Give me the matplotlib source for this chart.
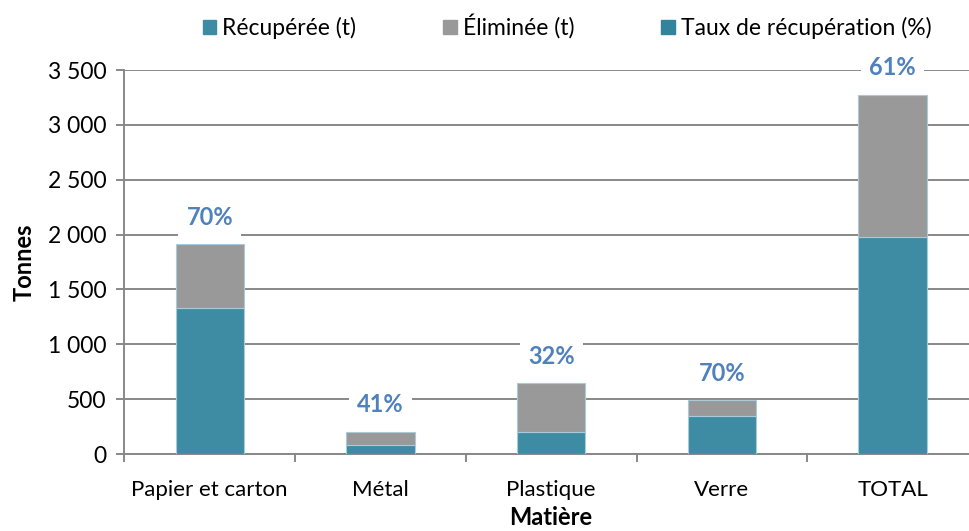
import matplotlib
matplotlib.use("Agg")
import matplotlib.pyplot as plt
from matplotlib.ticker import FuncFormatter, FixedLocator
from matplotlib.patches import Patch
import numpy as np

categories = ["Papier et carton", "Métal", "Plastique", "Verre", "TOTAL"]
recuperee = [1334, 84, 205, 342, 1981]
eliminee = [578, 121, 439, 148, 1292]
taux = [70, 41, 32, 70, 61]

plt.rcParams['font.family'] = ['Lato', 'DejaVu Sans']

fig = plt.figure(figsize=(9.69, 5.31), dpi=100)
ax = fig.add_axes([0.1283, 0.145, 0.881, 0.723])

teal = '#3d8ca4'
gray = '#999999'
edge = '#a9cad8'

x = np.arange(len(categories))
ax.bar(x, recuperee, width=0.4, color=teal, edgecolor=edge, linewidth=0.8, zorder=3)
tops = [r + e for r, e in zip(recuperee, eliminee)]
ax.bar(x, eliminee, width=0.4, bottom=recuperee, color=gray, edgecolor=edge, linewidth=0.8, zorder=3)

for xi, t, p in zip(x, tops, taux):
    ax.annotate(f"{p}%", (xi, t), xytext=(0, 19.5), textcoords='offset points',
                ha='center', va='center', fontsize=17, fontweight='bold', color='#4f81bd',
                bbox=dict(boxstyle='square,pad=0.35', fc='white', ec='none'), zorder=5)

ax.set_xlim(-0.5, len(categories) - 0.5)
ax.set_ylim(0, 3500)
ax.set_yticks(np.arange(0, 3501, 500))
ax.yaxis.set_major_formatter(FuncFormatter(lambda v, _: f"{int(v):,}".replace(",", " ")))
ax.yaxis.grid(True, color='#888888', linewidth=1.4, zorder=0)
ax.set_axisbelow(True)

ax.set_xticks(x)
ax.set_xticklabels(categories)
ax.xaxis.set_minor_locator(FixedLocator(np.arange(-0.5, len(categories), 1.0)))
ax.tick_params(axis='x', which='major', length=0, pad=19, labelsize=16)
ax.tick_params(axis='x', which='minor', length=6, width=1.4, color='#888888', direction='out')
ax.tick_params(axis='y', which='major', length=6, width=1.4, color='#888888', labelsize=16.5, pad=7)

for s in ['top', 'right']:
    ax.spines[s].set_visible(False)
for s in ['left', 'bottom']:
    ax.spines[s].set_color('#888888')
    ax.spines[s].set_linewidth(1.4)

ax.set_ylabel("Tonnes", fontsize=17, fontweight='bold', labelpad=9)
ax.set_xlabel("Matière", fontsize=17, fontweight='bold', labelpad=4)

handles = [Patch(color=teal), Patch(color=gray), Patch(color='#31849b')]
labels = ["Récupérée (t)", "Éliminée (t)", "Taux de récupération (%)"]
fig.legend(handles, labels, loc='center', bbox_to_anchor=(0.585, 0.95), ncol=3,
           frameon=False, fontsize=16.5, handlelength=0.6, handleheight=0.6,
           handletextpad=0.25, columnspacing=3.8)

fig.savefig("out.png", dpi=100)
